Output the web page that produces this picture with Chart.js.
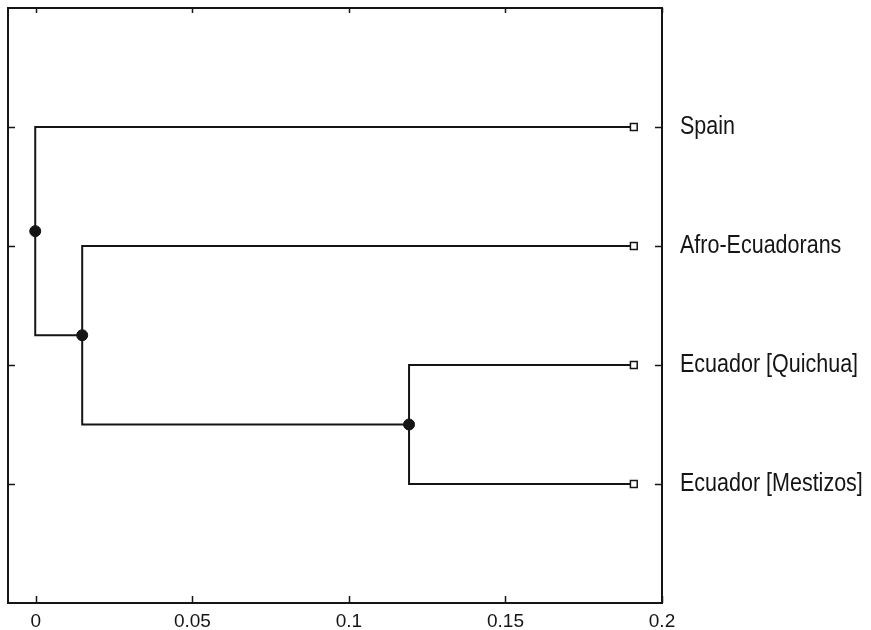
<!DOCTYPE html>
<html>
<head>
<meta charset="utf-8">
<title>Dendrogram</title>
<script src="https://cdn.jsdelivr.net/npm/chart.js@4.4.1/dist/chart.umd.min.js"></script>
<style>
  html, body { margin: 0; padding: 0; background: #fff; }
  #wrap { width: 871px; height: 630px; position: relative; }
</style>
</head>
<body>
<div id="wrap"><canvas id="tree"></canvas></div>
<script>
// leaves, top to bottom
const leaves = ['Spain', 'Afro-Ecuadorans', 'Ecuador [Quichua]', 'Ecuador [Mestizos]'];
const leafDist = 0.191;
// merges: children (leaf index 0..3 or 'm' + merge index) and join distance
const mergeLeft = [2, 1, 0];
const mergeRight = [3, 'm0', 'm1'];
const mergeDist = [0.1192, 0.0148, -0.0002];
// axis ticks
const xTicks = [0, 0.05, 0.1, 0.15, 0.2];
const xTickLabels = ['0', '0.05', '0.1', '0.15', '0.2'];
const yTicks = [1, 2, 3, 4];

const ink = '#151515';

// work out positions of each node
const nodes = [];
function nodePos(c) {
    if (typeof c === 'number') return { x: leafDist, y: c + 1 };
    return nodes[parseInt(c.slice(1))];
}
const branchSets = [];
mergeDist.forEach(function(d, i) {
    const a = nodePos(mergeLeft[i]);
    const b = nodePos(mergeRight[i]);
    nodes.push({ x: d, y: (a.y + b.y) / 2 });
    branchSets.push({
        data: [{ x: a.x, y: a.y }, { x: d, y: a.y }, { x: d, y: b.y }, { x: b.x, y: b.y }],
        showLine: true,
        borderColor: ink,
        borderWidth: 2,
        pointRadius: 0,
        fill: false
    });
});

function noPad(s) {
    s.paddingTop = 0; s.paddingBottom = 0; s.paddingLeft = 0; s.paddingRight = 0;
}

// frame, inward ticks and the (condensed) leaf names on the right
const framePlugin = {
    id: 'frame',
    afterDraw: function(chart) {
        const ctx = chart.ctx;
        const a = chart.chartArea;
        const xs = chart.scales.x;
        const ys = chart.scales.y;
        ctx.save();
        ctx.strokeStyle = ink;
        ctx.lineWidth = 2;
        ctx.strokeRect(a.left, a.top, a.right - a.left, a.bottom - a.top);
        ctx.lineWidth = 1.5;
        ctx.beginPath();
        xTicks.forEach(function(v) {
            const px = Math.round(xs.getPixelForValue(v)) + 0.5;
            ctx.moveTo(px, a.bottom); ctx.lineTo(px, a.bottom - 7);
            ctx.moveTo(px, a.top); ctx.lineTo(px, a.top + 5);
        });
        yTicks.forEach(function(v) {
            const py = Math.round(ys.getPixelForValue(v)) + 0.5;
            ctx.moveTo(a.left, py); ctx.lineTo(a.left + 7, py);
            ctx.moveTo(a.right, py); ctx.lineTo(a.right - 7, py);
        });
        ctx.stroke();

        ctx.fillStyle = ink;
        ctx.font = '25px "Liberation Sans", Arial, sans-serif';
        ctx.textAlign = 'left';
        ctx.textBaseline = 'middle';
        const lx = a.right + 18;
        yTicks.forEach(function(v) {
            const py = ys.getPixelForValue(v);
            ctx.save();
            ctx.translate(lx, py);
            ctx.scale(0.86, 1);
            ctx.fillText(leaves[v - 1], 0, 0);
            ctx.restore();
        });
        ctx.restore();
    }
};

const ctx = document.getElementById('tree').getContext('2d');
new Chart(ctx, {
    type: 'scatter',
    data: {
        datasets: [
            {
                // leaf markers
                data: leaves.map(function(l, i) { return { x: leafDist, y: i + 1 }; }),
                pointStyle: 'rect',
                pointRadius: 4.8,
                backgroundColor: '#fff',
                borderColor: ink,
                borderWidth: 1.5
            },
            {
                // join nodes
                data: nodes,
                pointStyle: 'circle',
                pointRadius: 5.5,
                backgroundColor: ink,
                borderColor: ink,
                borderWidth: 1
            }
        ].concat(branchSets)
    },
    options: {
        responsive: true,
        maintainAspectRatio: false,
        animation: false,
        layout: { padding: { top: 8, left: 0, right: 0, bottom: 0 } },
        plugins: {
            legend: { display: false },
            tooltip: { enabled: false }
        },
        scales: {
            x: {
                type: 'linear',
                position: 'bottom',
                min: -0.0089,
                max: 0.2,
                afterBuildTicks: function(s) { s.ticks = xTicks.map(function(v) { return { value: v }; }); },
                afterFit: function(s) { s.height = 27; noPad(s); },
                grid: { display: false, drawTicks: false },
                border: { display: false },
                ticks: {
                    padding: 7,
                    color: ink,
                    font: { family: 'Liberation Sans', size: 19 },
                    maxRotation: 0,
                    callback: function(v) {
                        const i = xTicks.indexOf(v);
                        return i >= 0 ? xTickLabels[i] : '';
                    }
                }
            },
            y: {
                type: 'linear',
                position: 'left',
                min: 0,
                max: 5,
                reverse: true,
                afterBuildTicks: function(s) { s.ticks = yTicks.map(function(v) { return { value: v }; }); },
                afterFit: function(s) { s.width = 8; noPad(s); },
                grid: { display: false, drawTicks: false },
                border: { display: false },
                ticks: { display: false }
            },
            yr: {
                type: 'linear',
                position: 'right',
                min: 0,
                max: 5,
                reverse: true,
                afterBuildTicks: function(s) { s.ticks = yTicks.map(function(v) { return { value: v }; }); },
                afterFit: function(s) { s.width = 209; noPad(s); },
                grid: { display: false, drawTicks: false },
                border: { display: false },
                ticks: { display: false }
            }
        }
    },
    plugins: [framePlugin]
});
</script>
</body>
</html>
